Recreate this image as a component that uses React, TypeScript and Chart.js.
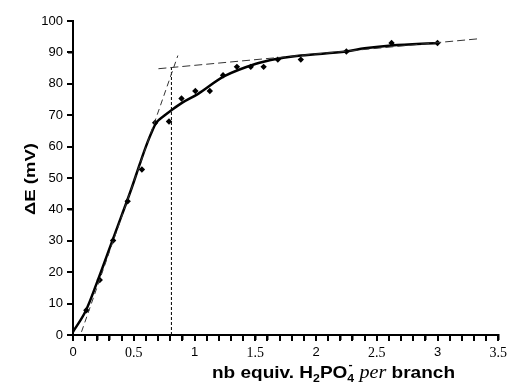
import React, { useEffect, useRef } from "react";
import { Chart, registerables } from "chart.js";

Chart.register(...registerables);

// Measured data points (diamonds)
const pointX = [0.11, 0.22, 0.33, 0.45, 0.567, 0.676, 0.79, 0.893, 1.007, 1.126, 1.235, 1.349, 1.463, 1.569, 1.686, 1.875, 2.25, 2.622, 3.0];
const pointY = [7.9, 17.5, 30.1, 42.6, 52.7, 67.6, 68, 75.3, 77.7, 77.7, 82.7, 85.4, 85.4, 85.4, 87.7, 87.7, 90.3, 93, 93];

// Smooth fitted curve
const curveX = [0, 0.1, 0.2, 0.3, 0.4, 0.48, 0.55, 0.6, 0.65, 0.69, 0.75, 0.81, 0.9, 1.03, 1.25, 1.5, 1.69, 1.875, 2.25, 2.4, 2.62, 3.0];
const curveY = [1, 7.3, 17, 27.5, 38, 46.5, 54.5, 60, 64.8, 67.8, 69.8, 71.6, 74, 76.8, 82.5, 86.3, 88, 89, 90.3, 91.3, 92.2, 93];

// Tangent lines (dashed) and equivalence marker (dotted)
const steepX = [0.07, 0.863];
const steepY = [1, 89];
const plateauX = [0.703, 3.355];
const plateauY = [84.8, 94.4];
const equivX = [0.81, 0.81];
const equivY = [0, 85.3];

// Axis ticks
const xTicks = [0, 0.1, 0.2, 0.3, 0.4, 0.5, 0.6, 0.7, 0.8, 0.9, 1, 1.1, 1.2, 1.3, 1.4, 1.5, 1.6, 1.7, 1.8, 1.9, 2, 2.1, 2.2, 2.3, 2.4, 2.5, 2.6, 2.7, 2.8, 2.9, 3, 3.1, 3.2, 3.3, 3.4, 3.5];
const xLabels = ["0", "0.5", "1", "1.5", "2", "2.5", "3", "3.5"];
const yTicks = [0, 10, 20, 30, 40, 50, 60, 70, 80, 90, 100];

const xMin = 0;
const xMax = 3.5;
const yMin = 0;
const yMax = 100;

const toXY = (xs: number[], ys: number[]) => xs.map((x, i) => ({ x, y: ys[i] }));

const TICK_LEN = 5;

const tickMarkPlugin = {
  id: "tickMarks",
  afterDraw(chart: any) {
    const ctx = chart.ctx as CanvasRenderingContext2D;
    const area = chart.chartArea;
    const xs = chart.scales.x;
    const ys = chart.scales.y;
    ctx.save();
    ctx.globalAlpha = 1;
    ctx.globalCompositeOperation = "source-over";
    ctx.fillStyle = "#000000";
    for (const v of xTicks) {
      const px = Math.round(xs.getPixelForValue(v));
      ctx.fillRect(px - 1, Math.round(area.bottom), 2, TICK_LEN + 1);
    }
    for (const v of yTicks) {
      const py = Math.round(ys.getPixelForValue(v));
      ctx.fillRect(Math.round(area.left) - TICK_LEN - 1, py - 1, TICK_LEN + 1, 2);
    }
    ctx.restore();
  },
};

const titlePlugin = {
  id: "customTitles",
  afterDraw(chart: any) {
    const ctx = chart.ctx as CanvasRenderingContext2D;
    const area = chart.chartArea;
    ctx.save();
    ctx.fillStyle = "#000";
    // Y title
    ctx.save();
    ctx.font = "bold 15px 'Liberation Sans', Arial, sans-serif";
    const yText = "ΔE (mV)";
    const yw = ctx.measureText(yText).width;
    ctx.translate(31, (area.top + area.bottom) / 2 + 1);
    ctx.rotate(-Math.PI / 2);
    ctx.scale(72 / yw, 1);
    ctx.textAlign = "center";
    ctx.textBaseline = "middle";
    ctx.fillText(yText, 0, 0);
    ctx.restore();

    // X title with sub/superscripts
    const big = "bold 17px 'Liberation Sans', Arial, sans-serif";
    const small = "bold 11px 'Liberation Sans', Arial, sans-serif";
    const ital = "italic 18px 'Liberation Serif', 'Times New Roman', serif";
    type Seg = { t: string; f: string; dy: number; noAdv?: boolean };
    const segs: Seg[] = [
      { t: "nb equiv. H", f: big, dy: 0 },
      { t: "2", f: small, dy: 4 },
      { t: "PO", f: big, dy: 0 },
      { t: "-", f: small, dy: -10, noAdv: true },
      { t: "4", f: small, dy: 4 },
      { t: " ", f: big, dy: 0 },
      { t: "per", f: ital, dy: 0 },
      { t: " branch", f: big, dy: 0 },
    ];
    let total = 0;
    for (const s of segs) {
      ctx.font = s.f;
      if (!s.noAdv) total += ctx.measureText(s.t).width;
    }
    const targetW = 243;
    const startX = 212;
    const baseY = 378;
    ctx.save();
    ctx.translate(startX, baseY);
    ctx.scale(targetW / total, 1);
    ctx.textAlign = "left";
    ctx.textBaseline = "alphabetic";
    let cx = 0;
    for (const s of segs) {
      ctx.font = s.f;
      ctx.fillText(s.t, cx + (s.noAdv ? 1 : 0), s.dy);
      if (!s.noAdv) cx += ctx.measureText(s.t).width;
    }
    ctx.restore();
    ctx.restore();
  },
};

export default function App() {
  const ref = useRef<HTMLCanvasElement | null>(null);
  useEffect(() => {
    if (!ref.current) return;
    const chart = new Chart(ref.current, {
      type: "scatter",
      data: {
        datasets: [
          {
            label: "steep",
            data: toXY(steepX, steepY),
            showLine: true,
            borderColor: "#333",
            borderWidth: 1,
            borderDash: [6, 4],
            pointRadius: 0,
            fill: false,
          },
          {
            label: "plateau",
            data: toXY(plateauX, plateauY),
            showLine: true,
            borderColor: "#333",
            borderWidth: 1,
            borderDash: [8, 4],
            pointRadius: 0,
            fill: false,
          },
          {
            label: "equiv",
            data: toXY(equivX, equivY),
            showLine: true,
            borderColor: "#000",
            borderWidth: 1,
            borderDash: [3, 2],
            pointRadius: 0,
            fill: false,
          },
          {
            label: "fit",
            data: toXY(curveX, curveY),
            showLine: true,
            borderColor: "#000",
            borderWidth: 2.5,
            tension: 0.35,
            pointRadius: 0,
            fill: false,
          },
          {
            label: "data",
            data: toXY(pointX, pointY),
            showLine: false,
            pointStyle: "rectRot",
            pointRadius: 3.2,
            backgroundColor: "#000",
            borderColor: "#000",
            borderWidth: 0,
          },
        ],
      },
      options: {
        responsive: false,
        animation: false,
        layout: { padding: { top: 21, right: 9, left: 0, bottom: 0 } },
        plugins: {
          legend: { display: false },
          tooltip: { enabled: false },
          title: { display: false },
        },
        scales: {
          x: {
            type: "linear",
            min: xMin,
            max: xMax,
            afterBuildTicks: (s: any) => {
              s.ticks = xTicks.map((v) => ({ value: v }));
            },
            afterFit: (s: any) => {
              s.height = 56;
            },
            border: { display: true, color: "#000", width: 2 },
            grid: {
              display: true,
              drawOnChartArea: false,
              drawTicks: true,
              tickLength: TICK_LEN,
              color: "#000",
              tickColor: "#000",
              lineWidth: 1.5,
              tickWidth: 1.5,
            },
            ticks: {
              autoSkip: false,
              maxRotation: 0,
              padding: 5,
              color: "#000",
              font: (c: any) => {
                const v = c.tick ? c.tick.value : 0;
                const isInt = Math.abs(v - Math.round(v)) < 1e-6;
                return isInt
                  ? { family: "'Liberation Sans', Arial, sans-serif", size: 13 }
                  : { family: "'Liberation Serif', 'Times New Roman', serif", size: 14 };
              },
              callback: (v: any) => {
                const n = Math.round(Number(v) * 10);
                if (n % 5 !== 0) return " ";
                return xLabels[n / 5] ?? " ";
              },
            },
          },
          y: {
            min: yMin,
            max: yMax,
            afterFit: (s: any) => {
              s.width = 73;
            },
            border: { display: true, color: "#000", width: 2 },
            grid: {
              display: true,
              drawOnChartArea: false,
              drawTicks: true,
              tickLength: TICK_LEN,
              color: "#000",
              tickColor: "#000",
              lineWidth: 1.5,
              tickWidth: 1.5,
            },
            ticks: {
              stepSize: 10,
              padding: 5,
              color: "#000",
              font: { family: "'Liberation Sans', Arial, sans-serif", size: 13 },
            },
          },
        },
      },
      plugins: [tickMarkPlugin, titlePlugin],
    } as any);
    return () => chart.destroy();
  }, []);
  return (
    <div style={{ position: "absolute", left: 0, top: 0, width: 512, height: 391, background: "#fff" }}>
      <canvas ref={ref} width={512} height={391} />
    </div>
  );
}
